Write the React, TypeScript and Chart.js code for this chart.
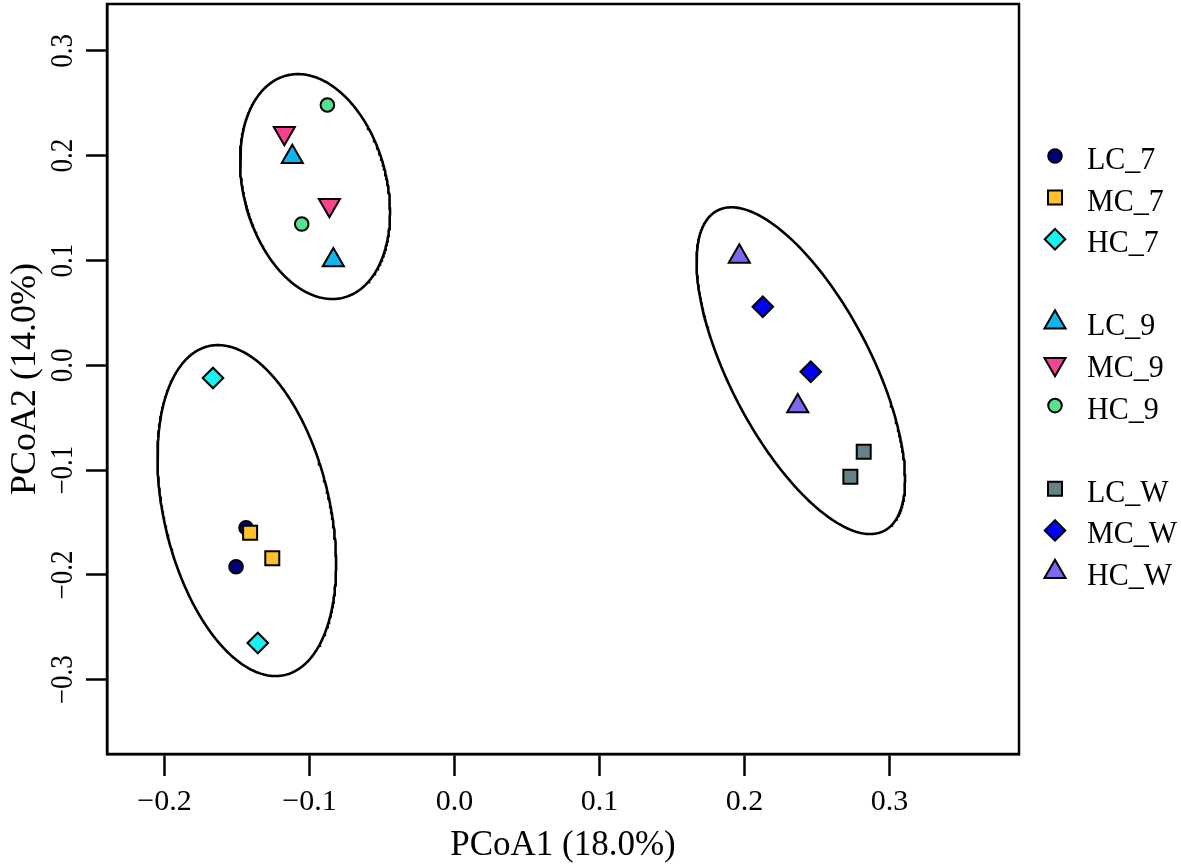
import React, { useEffect, useRef } from 'react';
import { Chart, registerables } from 'chart.js';

Chart.register(...registerables);

// ---------- data (PCoA coordinates) ----------
const LC_7 = [{ x: -0.1438, y: -0.155 }, { x: -0.1507, y: -0.1922 }];
const MC_7 = [{ x: -0.141, y: -0.1597 }, { x: -0.1257, y: -0.1842 }];
const HC_7 = [{ x: -0.1666, y: -0.0121 }, { x: -0.1357, y: -0.265 }];
const LC_9 = [{ x: -0.1119, y: 0.1988 }, { x: -0.0836, y: 0.1003 }];
const MC_9 = [{ x: -0.1174, y: 0.2216 }, { x: -0.0863, y: 0.153 }];
const HC_9 = [{ x: -0.0877, y: 0.2484 }, { x: -0.1054, y: 0.1348 }];
const LC_W = [{ x: 0.2822, y: -0.0824 }, { x: 0.273, y: -0.1063 }];
const MC_W = [{ x: 0.2126, y: 0.0559 }, { x: 0.2457, y: -0.0061 }];
const HC_W = [{ x: 0.1964, y: 0.1038 }, { x: 0.2367, y: -0.039 }];

const seriesNames = ['LC_7', 'MC_7', 'HC_7', 'LC_9', 'MC_9', 'HC_9', 'LC_W', 'MC_W', 'HC_W'];
const seriesData = [LC_7, MC_7, HC_7, LC_9, MC_9, HC_9, LC_W, MC_W, HC_W];
const seriesColors = ['#000080', '#FFC12A', '#19F0F0', '#0FB5EC', '#F7438F', '#55E390', '#668187', '#0000F5', '#7B68EE'];
const seriesShapes = ['circle', 'rect', 'rectRot', 'triangle', 'triangleDown', 'circle', 'rect', 'rectRot', 'triangle'];
const legendRows = [0, 1, 2, 4, 5, 6, 8, 9, 10];

// group ellipses (data units): centre, spread along x / y, correlation
const ellipseCx = [-0.1433, -0.0962, 0.2388];
const ellipseCy = [-0.1386, 0.1706, -0.0051];
const ellipseSx = [0.0616, 0.0517, 0.0719];
const ellipseSy = [0.1579, 0.1073, 0.1559];
const ellipseRho = [-0.322, -0.229, -0.665];

const xTicks = [-0.2, -0.1, 0.0, 0.1, 0.2, 0.3];
const yTicks = [-0.3, -0.2, -0.1, 0.0, 0.1, 0.2, 0.3];
const xRange = [-0.2397, 0.3893];
const yRange = [-0.3709, 0.3448];

const xTitle = 'PCoA1 (18.0%)';
const yTitle = 'PCoA2 (14.0%)';

const FONT = '"Liberation Serif", "Times New Roman", serif';

const fmt = (v: number) => {
  const s = Math.abs(v).toFixed(1);
  return v < -1e-9 ? '\u2212' + s : s;
};

const shapeRadius: Record<string, number> = { circle: 6.8, rect: 9.9, rectRot: 10.3, triangle: 12.2, triangleDown: 12.2 };

function ellipsePoints(i: number) {
  const pts: { x: number; y: number }[] = [];
  const n = 360;
  const s = Math.sqrt(1 - ellipseRho[i] * ellipseRho[i]);
  for (let k = 0; k <= n; k++) {
    const t = (2 * Math.PI * k) / n;
    pts.push({
      x: ellipseCx[i] + ellipseSx[i] * Math.cos(t),
      y: ellipseCy[i] + ellipseSy[i] * (ellipseRho[i] * Math.cos(t) + s * Math.sin(t)),
    });
  }
  return pts;
}

function drawMarker(ctx: CanvasRenderingContext2D, shape: string, x: number, y: number, fill: string) {
  const r = shapeRadius[shape];
  ctx.beginPath();
  if (shape === 'circle') {
    ctx.arc(x, y, r, 0, Math.PI * 2);
  } else if (shape === 'rect') {
    const h = r * Math.SQRT1_2;
    ctx.rect(x - h, y - h, 2 * h, 2 * h);
  } else if (shape === 'rectRot') {
    ctx.moveTo(x, y - r);
    ctx.lineTo(x + r, y);
    ctx.lineTo(x, y + r);
    ctx.lineTo(x - r, y);
    ctx.closePath();
  } else {
    const dir = shape === 'triangle' ? 1 : -1;
    ctx.moveTo(x, y - dir * r);
    ctx.lineTo(x + r * Math.sin((2 * Math.PI) / 3), y + (dir * r) / 2);
    ctx.lineTo(x - r * Math.sin((2 * Math.PI) / 3), y + (dir * r) / 2);
    ctx.closePath();
  }
  ctx.fillStyle = fill;
  ctx.fill();
  ctx.lineWidth = 2;
  ctx.strokeStyle = '#000';
  ctx.stroke();
}

const decorPlugin = {
  id: 'decor',
  afterDraw(chart: any) {
    const { ctx, chartArea } = chart;
    ctx.save();
    // plot box
    ctx.lineWidth = 2.5;
    ctx.strokeStyle = '#000';
    ctx.strokeRect(chartArea.left, chartArea.top, chartArea.right - chartArea.left, chartArea.bottom - chartArea.top);
    // rotated y tick labels
    const ys = chart.scales.y;
    ctx.fillStyle = '#000';
    ctx.font = `27px ${FONT}`;
    ctx.textAlign = 'center';
    ctx.textBaseline = 'alphabetic';
    yTicks.forEach((v) => {
      const py = ys.getPixelForValue(v);
      ctx.save();
      ctx.translate(chartArea.left - 35, py);
      ctx.rotate(-Math.PI / 2);
      ctx.scale(1, 1.15);
      ctx.fillText(fmt(v), 0, 0);
      ctx.restore();
    });
    // legend
    const lx = chartArea.right + 36;
    const ly0 = 156;
    const step = 41.6;
    ctx.textAlign = 'left';
    seriesNames.forEach((name, i) => {
      const y = ly0 + legendRows[i] * step;
      drawMarker(ctx, seriesShapes[i], lx, y, seriesColors[i]);
      ctx.fillStyle = '#000';
      ctx.font = `30px ${FONT}`;
      ctx.save();
      ctx.translate(lx + 32, y + 13);
      ctx.scale(1, 1.05);
      ctx.fillText(name, 0, 0);
      ctx.restore();
    });
    ctx.restore();
  },
};

export default function App() {
  const ref = useRef<HTMLCanvasElement>(null);
  useEffect(() => {
    const canvas = ref.current!;
    const pointSets = seriesData.map((data, i) => ({
      type: 'scatter' as const,
      label: seriesNames[i],
      data,
      order: -i,
      showLine: false,
      pointStyle: seriesShapes[i] === 'triangleDown' ? 'triangle' : seriesShapes[i],
      rotation: seriesShapes[i] === 'triangleDown' ? 180 : 0,
      pointRadius: shapeRadius[seriesShapes[i]],
      pointHoverRadius: shapeRadius[seriesShapes[i]],
      pointBackgroundColor: seriesColors[i],
      pointBorderColor: '#000',
      pointBorderWidth: 2,
      backgroundColor: seriesColors[i],
      borderColor: '#000',
    }));
    const ellipseSets = ellipseCx.map((_, i) => ({
      type: 'scatter' as const,
      label: 'ellipse' + i,
      data: ellipsePoints(i),
      order: 100,
      showLine: true,
      fill: false,
      pointRadius: 0,
      pointHoverRadius: 0,
      borderColor: '#000',
      borderWidth: 2.6,
      tension: 0,
    }));
    const chart = new Chart(canvas, {
      type: 'scatter',
      data: { datasets: [...pointSets, ...ellipseSets] as any },
      options: {
        animation: false,
        responsive: false,
        devicePixelRatio: 1,
        events: [],
        layout: { autoPadding: false, padding: { top: 4, right: 162, left: 0, bottom: 0 } },
        plugins: { legend: { display: false }, tooltip: { enabled: false } },
        font: { family: FONT },
        scales: {
          x: {
            type: 'linear',
            position: 'bottom',
            min: xRange[0],
            max: xRange[1],
            afterBuildTicks: (s: any) => {
              s.ticks = xTicks.map((v) => ({ value: v }));
            },
            afterFit: (s: any) => {
              s.height = 114;
            },
            ticks: {
              callback: (v: any) => fmt(Number(v)),
              font: { size: 30, family: FONT },
              color: '#000',
              padding: 8,
              maxRotation: 0,
              autoSkip: false,
            },
            grid: { drawOnChartArea: false, drawTicks: true, tickLength: 22, tickColor: '#000', tickWidth: 2.5 },
            border: { display: true, color: '#000', width: 2.5 },
            title: { display: true, text: xTitle, color: '#000', font: { size: 35, family: FONT }, padding: { top: 0, bottom: 1 } },
          },
          y: {
            type: 'linear',
            position: 'left',
            min: yRange[0],
            max: yRange[1],
            afterBuildTicks: (s: any) => {
              s.ticks = yTicks.map((v) => ({ value: v }));
            },
            afterFit: (s: any) => {
              s.width = 107;
            },
            ticks: { display: false },
            grid: { drawOnChartArea: false, drawTicks: true, tickLength: 21, tickColor: '#000', tickWidth: 2.5 },
            border: { display: true, color: '#000', width: 2.5 },
            title: { display: true, text: yTitle, color: '#000', font: { size: 36, family: FONT }, padding: { top: 3.5, bottom: 0 } },
          },
        },
      } as any,
      plugins: [decorPlugin],
    });
    return () => chart.destroy();
  }, []);
  return (
    <div style={{ position: 'absolute', left: 0, top: 0, width: 1181, height: 868, background: '#fff' }}>
      <canvas ref={ref} width={1181} height={868} style={{ display: 'block' }} />
    </div>
  );
}
